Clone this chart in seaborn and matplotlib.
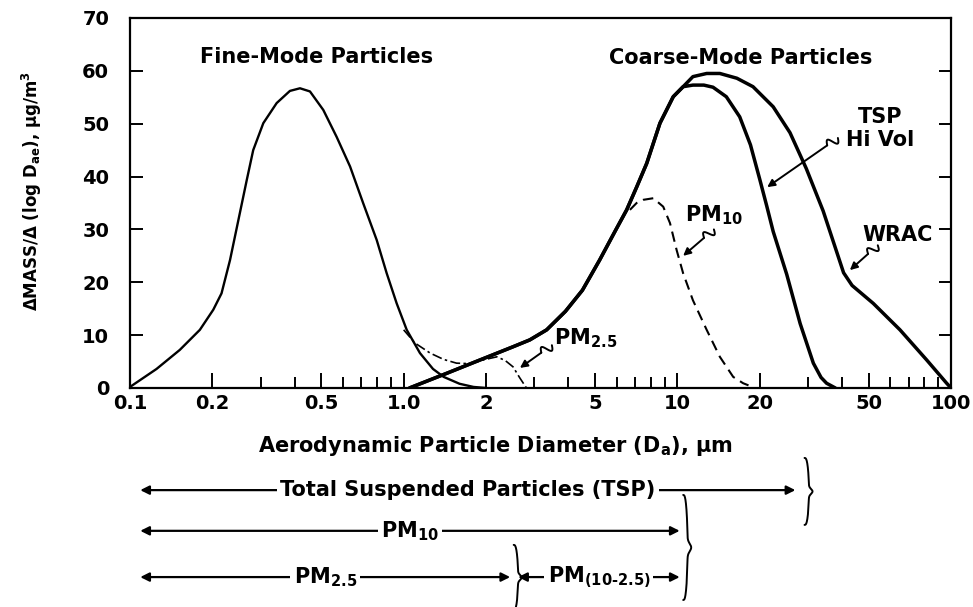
import numpy as np
import matplotlib
matplotlib.use("Agg")
import matplotlib.pyplot as plt
import seaborn as sns
from matplotlib.transforms import blended_transform_factory
from matplotlib.ticker import FixedLocator, NullFormatter

# ---------------- data ----------------
fine_x = [0.1, 0.125, 0.152, 0.180, 0.2015, 0.216, 0.232, 0.249, 0.267, 0.282, 0.307, 0.3435,
          0.384, 0.418, 0.4546, 0.5085, 0.569, 0.637, 0.712, 0.797, 0.867, 0.943, 1.026,
          1.147, 1.28, 1.40, 1.6, 1.8, 2.0]
fine_y = [0.2, 3.6, 7.2, 11.0, 14.8, 17.9, 24.2, 31.8, 39.3, 45.0, 50.1, 53.9,
          56.2, 56.7, 56.1, 52.6, 47.5, 41.9, 34.9, 28.0, 21.7, 16.0, 11.0,
          6.6, 3.6, 2.1, 0.8, 0.2, 0.0]

pm25_x = [1.0, 1.1, 1.25, 1.4, 1.56, 1.75, 1.95, 2.19, 2.35, 2.51, 2.65, 2.81]
pm25_y = [11.0, 8.5, 6.6, 5.4, 4.7, 4.6, 5.3, 5.9, 5.2, 4.0, 2.0, 0.0]

tsp_x = [1.05, 1.44, 1.90, 2.51, 2.89, 3.33, 3.9, 4.5, 5.2, 5.9, 6.53, 7.1, 7.73, 8.64, 9.66,
         10.5, 11.4, 12.5, 13.5, 15.1, 16.9, 18.5, 20.0, 21.2, 22.4, 25.1, 28.1, 31.4,
         33.5, 35.1, 37.8]
tsp_y = [0.0, 2.8, 5.3, 7.8, 9.1, 11.0, 14.5, 18.5, 24.2, 29.5, 33.7, 38.0, 42.5, 50.1, 55.1,
         57.0, 57.3, 57.3, 56.9, 55.1, 51.3, 46.0, 39.5, 34.5, 29.6, 21.5, 12.2, 4.7,
         2.0, 0.9, 0.0]

wrac_x = [1.05, 1.44, 1.90, 2.51, 2.89, 3.33, 3.9, 4.5, 5.2, 5.9, 6.53, 7.1, 7.73, 8.64, 9.66,
          10.5, 11.4, 12.8, 14.3, 16.5, 18.9, 22.4, 25.8, 29.6, 34.1, 37.8, 40.5, 43.5,
          52.0, 65.1, 81.5, 96.4, 100.0]
wrac_y = [0.0, 2.8, 5.3, 7.8, 9.1, 11.0, 14.5, 18.5, 24.2, 29.5, 33.7, 38.0, 42.5, 50.1, 55.1,
          57.0, 58.9, 59.5, 59.5, 58.6, 57.0, 53.2, 48.3, 41.5, 33.5, 26.5, 21.8, 19.4,
          16.0, 11.0, 5.3, 0.9, 0.0]

pm10_x = [6.71, 7.1, 7.51, 8.17, 8.88, 9.40, 9.94, 10.5, 11.4, 12.8, 14.3, 16.0, 17.4, 18.2]
pm10_y = [33.7, 35.0, 35.6, 35.9, 34.3, 31.2, 26.1, 21.7, 16.6, 11.0, 5.9, 2.1, 0.9, 0.5]

xtick_vals = [0.1, 0.2, 0.5, 1.0, 2, 5, 10, 20, 50, 100]
xtick_labels = ["0.1", "0.2", "0.5", "1.0", "2", "5", "10", "20", "50", "100"]
xminor_vals = [0.3, 0.4, 0.6, 0.7, 0.8, 0.9, 3, 4, 6, 7, 8, 9, 30, 40, 60, 70, 80, 90]
ytick_vals = [0, 10, 20, 30, 40, 50, 60, 70]

range_labels = ["Total Suspended Particles (TSP)", "PM$_{10}$", "PM$_{2.5}$", "PM$_{(10\u20102.5)}$"]
range_low = [0.109, 0.109, 0.109, 2.62]
range_high = [27.0, 10.2, 2.45, 10.2]
range_row = [-0.276, -0.386, -0.511, -0.511]

# ---------------- style ----------------
sns.set_theme(style="ticks")
plt.rcParams['font.family'] = ['DejaVu Sans']
plt.rcParams['font.weight'] = 'bold'
plt.rcParams['mathtext.default'] = 'bf'
for k in ['text.color', 'axes.labelcolor', 'xtick.color', 'ytick.color', 'axes.edgecolor']:
    plt.rcParams[k] = 'black'

FS = 15

fig = plt.figure(figsize=(9.73, 6.07), dpi=100)
ax = fig.add_axes([0.1336, 0.3608, 0.8438, 0.6096])
ax.set_xscale('log')
ax.set_xlim(0.1, 100)
ax.set_ylim(0, 70)

sns.lineplot(x=fine_x, y=fine_y, ax=ax, color='black', linewidth=1.7, sort=False, estimator=None)
sns.lineplot(x=pm25_x, y=pm25_y, ax=ax, color='black', linewidth=1.2, sort=False, estimator=None,
             linestyle=(0, (6, 2, 1.5, 2)))
sns.lineplot(x=tsp_x, y=tsp_y, ax=ax, color='black', linewidth=2.5, sort=False, estimator=None)
sns.lineplot(x=wrac_x, y=wrac_y, ax=ax, color='black', linewidth=2.5, sort=False, estimator=None)
sns.lineplot(x=pm10_x, y=pm10_y, ax=ax, color='black', linewidth=1.5, sort=False, estimator=None,
             linestyle=(0, (5, 3)))

for s in ax.spines.values():
    s.set_color('black')
    s.set_linewidth(1.6)

ax.xaxis.set_major_locator(FixedLocator(xtick_vals))
ax.set_xticklabels(xtick_labels)
ax.xaxis.set_minor_locator(FixedLocator(xminor_vals))
ax.xaxis.set_minor_formatter(NullFormatter())
ax.set_yticks(ytick_vals)
ax.tick_params(axis='x', which='major', direction='in', length=11, width=1.4, bottom=True, top=False,
               labelsize=14, pad=4)
ax.tick_params(axis='x', which='minor', direction='in', length=8, width=1.4, bottom=True, top=False)
ax.tick_params(axis='y', which='major', direction='in', length=9, width=1.4, left=True, right=True,
               labelsize=14, pad=15)

ax.set_xlabel("Aerodynamic Particle Diameter (D$_{a}$), \u00b5m", fontsize=FS, fontweight='bold')
ax.xaxis.set_label_coords(0.4446, -0.125)
ax.set_ylabel("\u0394MASS/\u0394 (log D$_{ae}$), \u00b5g/m$^{3}$", fontsize=12, fontweight='bold')
ax.yaxis.set_label_coords(-0.105, 0.532)

ax.text(0.48, 62.6, "Fine-Mode Particles", ha='center', va='center', fontsize=FS)
ax.text(17.1, 62.4, "Coarse-Mode Particles", ha='center', va='center', fontsize=FS)
ax.text(54.9, 51.3, "TSP", ha='center', va='center', fontsize=FS)
ax.text(54.9, 46.9, "Hi Vol", ha='center', va='center', fontsize=FS)
ax.text(64.0, 28.9, "WRAC", ha='center', va='center', fontsize=FS)
ax.text(10.7, 32.6, "PM$_{10}$", ha='left', va='center', fontsize=FS)
ax.text(3.55, 9.4, "PM$_{2.5}$", ha='left', va='center', fontsize=FS)

inv_fig = fig.transFigure.inverted()


def squiggle_arrow(start, end):
    s = ax.transData.transform(start)
    e = ax.transData.transform(end)
    d = (e - s) / np.hypot(*(e - s))
    n = np.array([-d[1], d[0]])
    t = np.linspace(0, 1, 40)
    pts = s + np.outer(t * 13, d) + np.outer(4.5 * np.sin(2 * np.pi * t), n)
    f = inv_fig.transform(pts)
    fig.add_artist(plt.Line2D(f[:, 0], f[:, 1], color='black', lw=1.4))
    mid = ax.transData.inverted().transform(pts[-1])
    ax.annotate("", xy=end, xytext=mid,
                arrowprops=dict(arrowstyle='-|>', lw=1.4, color='black', mutation_scale=11,
                                shrinkA=0, shrinkB=0))


squiggle_arrow((38.6, 47.3), (21.3, 38.0))
squiggle_arrow((13.6, 30.0), (10.5, 25.0))
squiggle_arrow((54.0, 27.0), (42.7, 22.3))
squiggle_arrow((3.48, 8.1), (2.66, 3.8))

# ---------------- size-range arrows below the axes ----------------
trans = blended_transform_factory(ax.transData, ax.transAxes)
for lab, lo, hi, row in zip(range_labels, range_low, range_high, range_row):
    ax.annotate("", xy=(hi, row), xytext=(lo, row), xycoords=trans, textcoords=trans,
                arrowprops=dict(arrowstyle='<|-|>', lw=1.6, color='black', mutation_scale=13,
                                shrinkA=0, shrinkB=0), annotation_clip=False)
    mid = np.sqrt(lo * hi)
    ax.text(mid, row, lab, transform=trans, ha='center', va='center', fontsize=FS,
            bbox=dict(boxstyle='square,pad=0.15', fc='white', ec='none'), clip_on=False)


def brace(x, y_top, y_bot, w=8):
    (px, pt) = trans.transform((x, y_top))
    (_, pb) = trans.transform((x, y_bot))
    t = np.linspace(0, 1, 300)
    xs = px + w * 0.55 * np.sin(np.pi * t) ** 0.35 + w * 0.45 * np.exp(-((t - 0.5) / 0.05) ** 2)
    ys = pt + (pb - pt) * t
    f = inv_fig.transform(np.column_stack([xs, ys]))
    fig.add_artist(plt.Line2D(f[:, 0], f[:, 1], color='black', lw=1.4))


brace(range_high[0] * 1.08, -0.189, -0.370)
brace(range_high[1] * 1.03, -0.289, -0.573)
brace(range_high[2] * 1.03, -0.424, -0.600)

fig.savefig("out.png", dpi=100, facecolor='white')
